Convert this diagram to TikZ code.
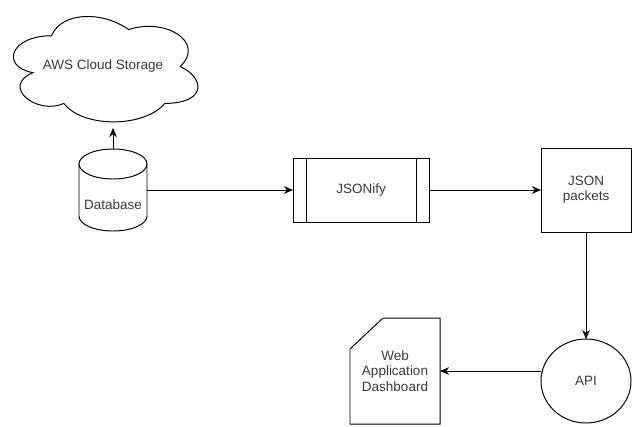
\documentclass[tikz,border=0pt]{standalone}
\usepackage{fontspec}
\setmainfont{Liberation Sans}
\usetikzlibrary{arrows.meta, positioning, calc, shapes.geometric}
\definecolor{inkgray}{HTML}{3A3A3A}
\tikzset{
  pbox/.style={rectangle, draw=#1, line width=0.7pt, outer sep=0pt, align=center},
  pbox/.default=black,
  ghost/.style={rectangle, draw=none, outer sep=0pt, inner sep=0pt, align=center},
  outl/.style={draw=black, line width=0.7pt},
  arr/.style={-{Stealth[length=6.5pt, width=5.5pt]}, line width=0.7pt, #1},
  arr/.default=black,
}

\begin{document}
\begin{tikzpicture}[every node/.style={font=\fontsize{9.6}{10.8}\selectfont, text=inkgray}]
  \useasboundingbox (0,0) rectangle (15.8,-10.65);

  % storage and source
  \node[ghost, minimum width=5.15cm, minimum height=3.075cm] (cloud) at (2.575,-1.6625) {AWS Cloud Storage};
  \node[ghost, minimum width=1.7cm, minimum height=2.05cm] (db) at (2.825,-4.75) {};
  \node (dbname) at ([yshift=-0.375cm]db.center) {Database};

  % processing chain
  \node[pbox, minimum width=3.4cm, minimum height=1.6cm, right=3.65cm of db] (jsonify) {JSONify};
  \node[pbox, minimum width=2.25cm, minimum height=2.1cm, right=2.8cm of jsonify] (packets) {JSON\\packets};
  \node[ellipse, draw, line width=0.7pt, outer sep=0pt, inner sep=0pt,
        minimum width=2.25cm, minimum height=2.1cm, below=2.675cm of packets] (api) {API};
  \node[ghost, minimum width=2.25cm, minimum height=2.65cm, left=2.525cm of api, yshift=0.25cm]
    (web) {Web\\Application\\Dashboard};

  % shapes
  \begin{scope}[shift={(cloud.north west)}, x=5.15cm, y=-3.075cm]
    \draw[outl] (0.25,0.25) .. controls (0.05,0.25) and (0,0.5) .. (0.16,0.55)
      .. controls (0,0.66) and (0.18,0.9) .. (0.31,0.8)
      .. controls (0.4,1) and (0.7,1) .. (0.8,0.8)
      .. controls (1,0.8) and (1,0.6) .. (0.875,0.5)
      .. controls (1,0.3) and (0.8,0.1) .. (0.625,0.2)
      .. controls (0.5,0.05) and (0.3,0.05) .. (0.25,0.25) -- cycle;
  \end{scope}
  \draw[outl] ([yshift=-0.375cm]db.north) ellipse [x radius=0.85cm, y radius=0.375cm];
  \draw[outl] ([yshift=-0.375cm]db.north west) -- ([yshift=0.375cm]db.south west)
    arc[start angle=180, end angle=360, x radius=0.85cm, y radius=0.375cm]
    -- ([yshift=-0.375cm]db.north east);
  \draw[outl] ([xshift=0.325cm]jsonify.north west) -- ([xshift=0.325cm]jsonify.south west);
  \draw[outl] ([xshift=-0.325cm]jsonify.north east) -- ([xshift=-0.325cm]jsonify.south east);
  \draw[outl] (web.north east) -- (web.south east) -- (web.south west)
    -- ([yshift=-0.775cm]web.north west) -- ([xshift=0.825cm]web.north west) -- cycle;

  % flows
  \draw[arr] (db.north) -- (db.north |- cloud.south);
  \draw[arr] (db) -- (jsonify);
  \draw[arr] (jsonify) -- (packets);
  \draw[arr] (packets) -- (api);
  \draw[arr] (api.west |- web.east) -- (web.east);
\end{tikzpicture}
\end{document}
